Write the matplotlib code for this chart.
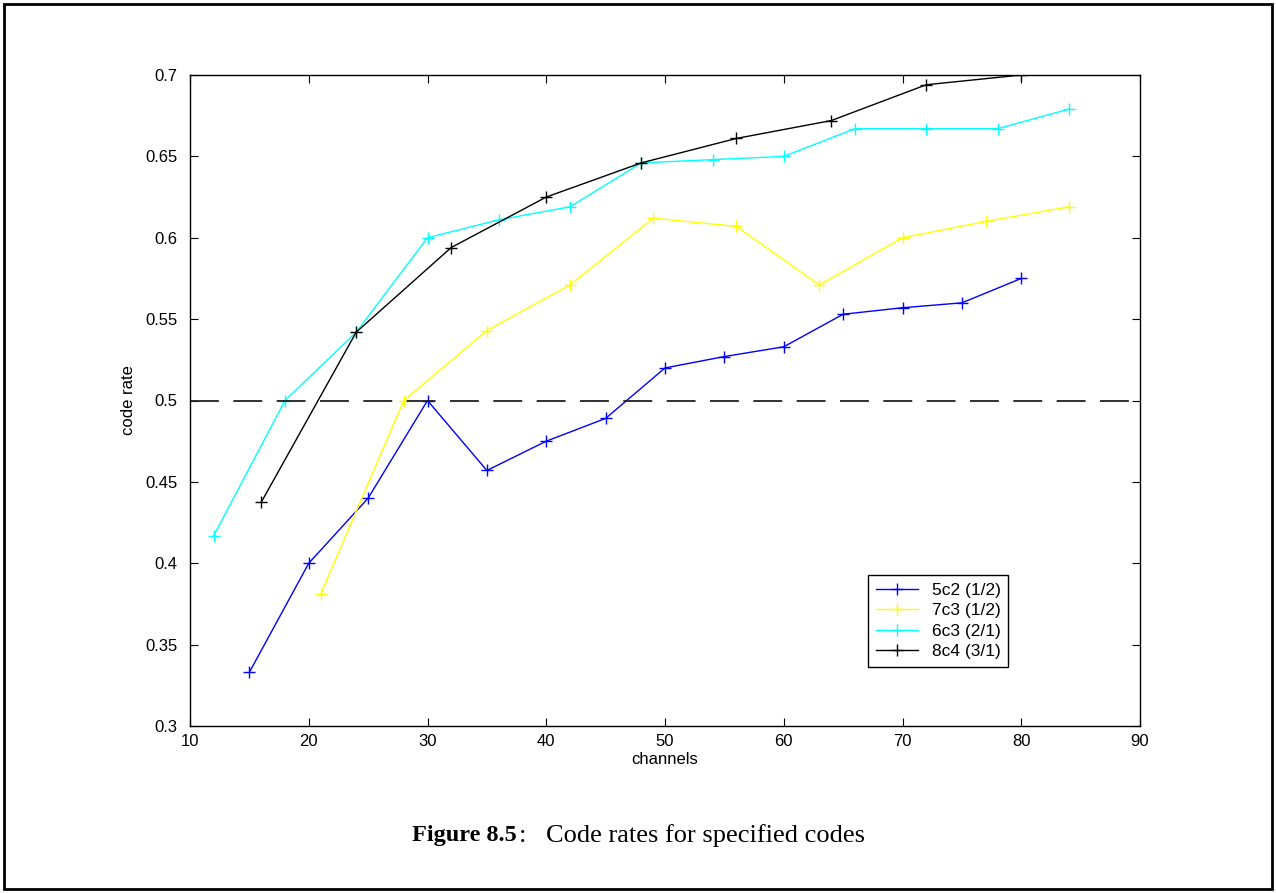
import matplotlib
matplotlib.use("Agg")
import matplotlib.pyplot as plt
from matplotlib.patches import Rectangle

# Data
x_5c2 = [15, 20, 25, 30, 35, 40, 45, 50, 55, 60, 65, 70, 75, 80]
y_5c2 = [0.333, 0.400, 0.440, 0.500, 0.457, 0.475, 0.489, 0.520, 0.527, 0.533, 0.553, 0.557, 0.560, 0.575]

x_7c3 = [21, 28, 35, 42, 49, 56, 63, 70, 77, 84]
y_7c3 = [0.381, 0.500, 0.543, 0.571, 0.612, 0.607, 0.571, 0.600, 0.610, 0.619]

x_6c3 = [12, 18, 24, 30, 36, 42, 48, 54, 60, 66, 72, 78, 84]
y_6c3 = [0.417, 0.500, 0.542, 0.600, 0.611, 0.619, 0.646, 0.648, 0.650, 0.667, 0.667, 0.667, 0.679]

x_8c4 = [16, 24, 32, 40, 48, 56, 64, 72, 80]
y_8c4 = [0.4375, 0.542, 0.594, 0.625, 0.646, 0.661, 0.672, 0.694, 0.700]

labels = ["5c2 (1/2)", "7c3 (1/2)", "6c3 (2/1)", "8c4 (3/1)"]
colors = ["#0000ff", "#ffff00", "#00ffff", "#000000"]

xticks = [10, 20, 30, 40, 50, 60, 70, 80, 90]
yticks = [0.3, 0.35, 0.4, 0.45, 0.5, 0.55, 0.6, 0.65, 0.7]
ytick_labels = ["0.3", "0.35", "0.4", "0.45", "0.5", "0.55", "0.6", "0.65", "0.7"]

plt.rcParams['font.family'] = ['Liberation Sans', 'DejaVu Sans']

fig = plt.figure(figsize=(12.76, 8.93), dpi=100)
fig.patch.set_facecolor("white")
fig.patches.append(Rectangle((0.003, 0.004), 0.994, 0.992, transform=fig.transFigure,
                             fill=False, edgecolor="black", linewidth=2.0))

ax = fig.add_axes([190/1276, 1-726/893, 950/1276, 651/893])

series = [(x_5c2, y_5c2), (x_7c3, y_7c3), (x_6c3, y_6c3), (x_8c4, y_8c4)]
for (xs, ys), lab, c in zip(series, labels, colors):
    ax.plot(xs, ys, color=c, marker='+', markersize=9, markeredgewidth=1.0,
            linewidth=1.0, label=lab)

ax.axhline(0.5, color="#202020", linestyle=(0, (16, 8)), linewidth=1.3)

ax.set_xlim(10, 90)
ax.set_ylim(0.3, 0.7)
ax.set_xticks(xticks)
ax.set_yticks(yticks)
ax.set_yticklabels(ytick_labels)
ax.tick_params(direction="in", length=6, labelsize=12, top=True, right=True)
ax.tick_params(axis="x", pad=6)
ax.tick_params(axis="y", pad=9)
for s in ax.spines.values():
    s.set_linewidth(1.0)
ax.set_xlabel("channels", fontsize=12, labelpad=2)
ax.set_ylabel("code rate", fontsize=12, labelpad=7)

leg = ax.legend(loc="upper left", bbox_to_anchor=(0.714, 0.232), borderaxespad=0,
                fontsize=12.5, fancybox=False, framealpha=1, edgecolor="black",
                handlelength=2.4, labelspacing=0.3, borderpad=0.45)
leg.get_frame().set_linewidth(1.0)

cap_y = 1 - 836/893
t1 = fig.text(412/1276, cap_y, "Figure 8.5", fontsize=17.5, fontweight="bold",
              family="Liberation Serif", va="center", ha="left")
ax.annotate(":", xy=(1, 0.5), xycoords=t1, xytext=(1.5, 0), textcoords="offset points",
            fontsize=19, family="Liberation Serif", va="center", ha="left",
            annotation_clip=False)
fig.text(546/1276, cap_y, "Code rates for specified codes", fontsize=19,
         family="Liberation Serif", va="center", ha="left")

fig.savefig("out.png", dpi=100)
